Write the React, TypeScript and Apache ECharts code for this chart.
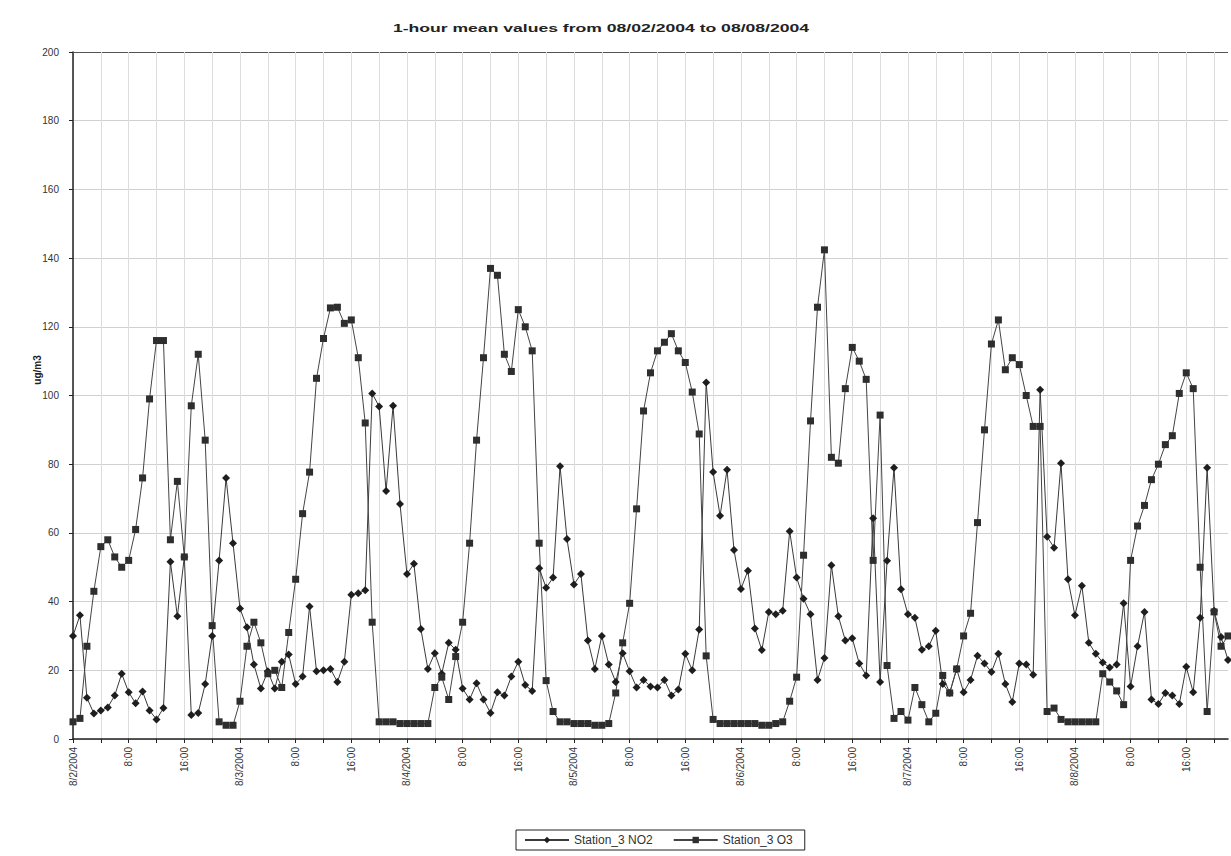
import React, { useEffect, useRef } from "react";
import * as echarts from "echarts";

const titleText = "1-hour mean values from 08/02/2004 to 08/08/2004";
const yAxisName = "ug/m3";
const days = ["8/2/2004", "8/3/2004", "8/4/2004", "8/5/2004", "8/6/2004", "8/7/2004", "8/8/2004"];
const hoursShown = 167;
const seriesNames = ["Station_3 NO2", "Station_3 O3"];

const no2 = [
  30, 36, 12, 7.4, 8.3, 9.2, 12.7, 19, 13.6, 10.4, 13.8, 8.3, 5.7, 9, 51.6, 35.7, 53, 7, 7.6, 16, 30, 52, 76, 57,
  38, 32.5, 21.7, 14.7, 19.7, 14.7, 22.5, 24.6, 16, 18.2, 38.6, 19.7, 20, 20.4, 16.6, 22.5, 42, 42.4, 43.3, 100.6, 96.8, 72.2, 97, 68.4,
  48, 51, 32, 20.4, 25, 19, 28, 26, 14.7, 11.5, 16.2, 11.5, 7.6, 13.6, 12.7, 18.2, 22.5, 15.7, 14, 49.7, 44, 47, 79.4, 58.2,
  45, 48, 28.7, 20.4, 30, 21.7, 16.6, 25, 19.7, 15, 17.2, 15.3, 15, 17.2, 12.7, 14.4, 24.8, 20, 31.9, 103.8, 77.7, 65, 78.4, 55,
  43.7, 49, 32.2, 25.9, 37, 36.3, 37.3, 60.5, 47, 40.8, 36.3, 17.2, 23.6, 50.6, 35.7, 28.7, 29.3, 22, 18.5, 64.3, 16.6, 51.9, 79, 43.6,
  36.3, 35.3, 26, 27, 31.5, 16, 13.4, 20.4, 13.6, 17.2, 24.2, 22, 19.5, 24.8, 16, 10.8, 22, 21.7, 18.7, 101.7, 58.9, 55.7, 80.3, 46.5,
  36, 44.6, 28, 24.8, 22.3, 20.8, 21.7, 39.5, 15.3, 27, 37, 11.5, 10.2, 13.4, 12.7, 10.2, 21, 13.6, 35.3, 79, 37.3, 29.7, 23,
];

const o3 = [
  5, 6, 27, 43, 56, 58, 53, 50, 52, 61, 76, 99, 116, 116, 58, 75, 53, 97, 112, 87, 33, 5, 4, 4,
  11, 27, 34, 28, 19, 20, 15, 31, 46.5, 65.6, 77.7, 105, 116.6, 125.5, 125.7, 121, 122, 111, 92, 34, 5, 5, 5, 4.5,
  4.5, 4.5, 4.5, 4.5, 15, 18, 11.5, 24, 34, 57, 87, 111, 137, 135, 112, 107, 125, 120, 113, 57, 17, 8, 5, 5,
  4.5, 4.5, 4.5, 4, 4, 4.5, 13.4, 28, 39.5, 67, 95.5, 106.6, 113, 115.5, 118, 113, 109.6, 101, 88.8, 24.2, 5.7, 4.5, 4.5, 4.5,
  4.5, 4.5, 4.5, 4, 4, 4.5, 5, 11, 18, 53.5, 92.6, 125.7, 142.4, 82, 80.3, 102, 114, 110, 104.7, 52, 94.3, 21.4, 6, 8,
  5.5, 15, 10, 5, 7.5, 18.5, 13.4, 20.4, 30, 36.6, 63, 90, 115, 122, 107.5, 111, 109, 100, 91, 91, 8, 9, 5.7, 5,
  5, 5, 5, 5, 19, 16.6, 14, 10, 52, 62, 68, 75.5, 80, 85.7, 88.3, 100.6, 106.6, 102, 50, 8, 37, 27, 30,
];

const categories: string[] = [];
for (let i = 0; i < hoursShown; i++) {
  const h = i % 24;
  categories.push(h === 0 ? days[Math.floor(i / 24)] : `${h}:00`);
}

const FONT = "'Liberation Sans', Arial, sans-serif";

export default function App() {
  const ref = useRef<HTMLDivElement>(null);
  useEffect(() => {
    if (!ref.current) return;
    const chart = echarts.init(ref.current, undefined, { renderer: "svg" });
    const splitColors = ["#d0d0d0", "#d0d0d0", "#d0d0d0", "#d0d0d0", "#d0d0d0", "#d0d0d0", "#d0d0d0", "#d0d0d0", "#d0d0d0", "#d0d0d0", "#555555"];
    chart.setOption({
      animation: false,
      backgroundColor: "#ffffff",
      graphic: [
        {
          type: "text",
          x: 601,
          y: 28,
          scaleX: 1.6,
          style: {
            text: titleText,
            fontFamily: FONT,
            fontSize: 11,
            fontWeight: "bold",
            fill: "#222",
            textAlign: "center",
            textVerticalAlign: "middle",
          },
        },
        {
          type: "text",
          x: 37,
          y: 370,
          rotation: Math.PI / 2,
          style: {
            text: yAxisName,
            fontFamily: FONT,
            fontSize: 10,
            fontWeight: "bold",
            fill: "#222",
            textAlign: "center",
            textVerticalAlign: "middle",
          },
        },
      ],
      legend: {
        bottom: 6,
        left: 516,
        data: seriesNames,
        orient: "horizontal",
        borderColor: "#222",
        borderWidth: 1,
        padding: [4, 12, 4, 8],
        itemGap: 20,
        itemWidth: 44,
        itemHeight: 8,
        textStyle: { fontFamily: FONT, fontSize: 12, color: "#333" },
      },
      grid: { left: 73, top: 52, height: 687, right: 3, containLabel: false },
      xAxis: {
        type: "category",
        data: categories,
        boundaryGap: false,
        axisLine: { lineStyle: { color: "#222", width: 1.5 } },
        axisTick: { interval: 3, length: 4, lineStyle: { color: "#222" } },
        axisLabel: {
          interval: 7,
          rotate: 90,
          fontFamily: FONT,
          fontSize: 10,
          color: "#333",
          margin: 8,
        },
        splitLine: { show: true, interval: 3, lineStyle: { color: "#dcdcdc", width: 1 } },
      },
      yAxis: {
        type: "value",
        min: 0,
        max: 200,
        interval: 20,
        axisLine: { show: true, lineStyle: { color: "#222", width: 1.5 } },
        axisTick: { show: true, length: 4, lineStyle: { color: "#222" } },
        axisLabel: { fontFamily: FONT, fontSize: 10, color: "#333", margin: 14 },
        splitLine: { show: true, lineStyle: { color: splitColors, width: 1 } },
      },
      series: [
        {
          name: seriesNames[0],
          type: "line",
          data: no2,
          symbol: "diamond",
          symbolSize: 8,
          showSymbol: true,
          showAllSymbol: true,
          itemStyle: { color: "#1e1e1e" },
          lineStyle: { color: "#3a3a3a", width: 1 },
        },
        {
          name: seriesNames[1],
          type: "line",
          data: o3,
          symbol: "rect",
          symbolSize: 7,
          showSymbol: true,
          showAllSymbol: true,
          itemStyle: { color: "#2e2e2e" },
          lineStyle: { color: "#444444", width: 1 },
        },
      ],
    });
    return () => chart.dispose();
  }, []);
  return (
    <div
      ref={ref}
      style={{ position: "absolute", left: 0, top: 0, width: 1231, height: 856, background: "#fff" }}
    />
  );
}
